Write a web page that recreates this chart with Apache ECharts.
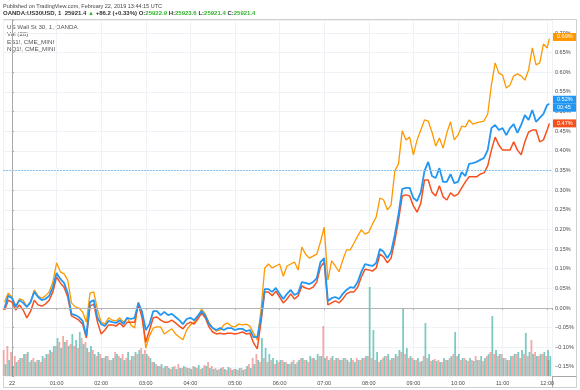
<!DOCTYPE html>
<html><head><meta charset="utf-8">
<script src="https://cdn.jsdelivr.net/npm/echarts@6/dist/echarts.min.js"></script>
<style>html,body{margin:0;padding:0;background:#fff}#c{width:580px;height:390px}</style>
</head><body><div id="c"></div>
<script>
// time in minutes from 00:00 (Feb 22)
const minutes = [-10,-5,0,5,10,15,20,25,30,35,40,45,50,55,60,65,70,75,80,85,90,95,100,105,110,115,120,125,130,135,140,145,150,155,160,165,170,175,180,185,190,195,200,205,210,215,220,225,230,235,240,245,250,255,260,265,270,275,280,285,290,295,300,305,310,315,320,325,330,335,340,345,350,355,360,365,370,375,380,385,390,395,400,405,410,415,420,425,430,435,440,445,450,455,460,465,470,475,480,485,490,495,500,505,510,515,520,525,530,535,540,545,550,555,560,565,570,575,580,585,590,595,600,605,610,615,620,625,630,635,640,645,650,655,660,665,670,675,680,685,690,695,700,705,710,715,720,723];

// % change, US Wall St 30 (blue)
const us30 = [0.000,0.031,0.025,0.003,0.020,0.013,0.003,0.015,0.041,0.028,0.020,0.023,0.031,0.053,
0.089,0.074,0.064,0.038,-0.015,-0.018,-0.023,-0.033,-0.071,0.015,0.020,-0.025,
-0.041,-0.046,-0.033,-0.036,-0.038,-0.031,-0.041,-0.025,-0.028,-0.025,0.013,-0.010,
-0.056,-0.041,-0.008,-0.008,-0.018,-0.010,-0.018,-0.015,-0.023,-0.031,-0.041,-0.028,
-0.025,-0.031,-0.020,-0.008,-0.020,-0.041,-0.051,-0.056,-0.051,-0.056,-0.051,-0.051,
-0.056,-0.053,-0.053,-0.059,-0.056,-0.074,-0.074,-0.025,0.048,0.048,0.041,0.051,
0.036,0.023,0.036,0.046,0.033,0.038,0.066,0.064,0.061,0.066,0.076,0.117,
0.127,0.018,0.025,0.028,0.023,0.036,0.046,0.053,0.051,0.066,0.092,0.112,
0.109,0.107,0.115,0.150,0.143,0.127,0.143,0.186,0.239,0.303,0.306,0.306,
0.280,0.272,0.295,0.349,0.372,0.336,0.331,0.356,0.321,0.321,0.341,0.318,
0.321,0.346,0.336,0.367,0.369,0.372,0.377,0.382,0.402,0.458,0.466,0.453,
0.458,0.440,0.458,0.468,0.446,0.466,0.491,0.479,0.504,0.474,0.484,0.494,
0.517,0.520];

// % change, NQ1! (orange)
const nq = [0.015,0.038,0.028,0.005,0.023,0.020,0.003,0.015,0.046,0.031,0.025,0.031,0.041,0.066,
0.115,0.092,0.087,0.071,0.013,0.003,0.000,-0.010,-0.036,0.038,0.041,-0.005,
-0.036,-0.041,-0.025,-0.031,-0.033,-0.025,-0.036,-0.025,-0.043,-0.051,0.015,-0.020,
-0.102,-0.071,-0.051,-0.048,-0.048,-0.066,-0.059,-0.053,-0.066,-0.074,-0.081,-0.056,
-0.043,-0.036,-0.023,-0.003,-0.015,-0.036,-0.051,-0.059,-0.056,-0.043,-0.038,-0.046,
-0.048,-0.041,-0.043,-0.041,-0.046,-0.064,-0.081,-0.005,0.102,0.112,0.102,0.107,
0.112,0.081,0.107,0.112,0.117,0.097,0.155,0.137,0.127,0.132,0.137,0.168,
0.206,0.071,0.120,0.107,0.092,0.122,0.148,0.148,0.165,0.183,0.199,0.188,
0.193,0.214,0.232,0.280,0.275,0.250,0.262,0.349,0.367,0.451,0.428,0.435,
0.390,0.428,0.453,0.479,0.476,0.448,0.412,0.433,0.407,0.446,0.474,0.428,
0.440,0.463,0.461,0.479,0.468,0.471,0.474,0.476,0.494,0.568,0.624,0.598,
0.593,0.560,0.568,0.591,0.596,0.591,0.580,0.606,0.662,0.619,0.624,0.672,
0.662,0.686];

// % change, ES1! (red)
const es = [-0.005,0.020,0.015,-0.005,0.008,-0.005,-0.025,-0.008,0.020,0.008,0.005,0.010,0.020,0.041,
0.079,0.064,0.053,0.028,-0.020,-0.025,-0.031,-0.041,-0.076,0.005,0.010,-0.036,
-0.066,-0.056,-0.043,-0.043,-0.046,-0.038,-0.048,-0.036,-0.036,-0.036,0.010,-0.025,
-0.087,-0.056,-0.025,-0.023,-0.031,-0.036,-0.036,-0.031,-0.038,-0.046,-0.053,-0.041,
-0.036,-0.041,-0.028,-0.013,-0.025,-0.048,-0.061,-0.066,-0.064,-0.066,-0.064,-0.064,
-0.066,-0.064,-0.061,-0.066,-0.064,-0.089,-0.104,-0.036,0.041,0.041,0.031,0.043,
0.028,0.013,0.023,0.036,0.023,0.031,0.056,0.051,0.048,0.053,0.066,0.104,
0.117,0.008,0.013,0.018,0.013,0.023,0.036,0.041,0.041,0.053,0.079,0.099,
0.097,0.094,0.102,0.137,0.130,0.115,0.127,0.171,0.224,0.285,0.288,0.285,
0.260,0.244,0.267,0.326,0.326,0.295,0.285,0.311,0.283,0.275,0.293,0.285,
0.290,0.306,0.321,0.334,0.334,0.334,0.341,0.344,0.362,0.402,0.435,0.415,
0.402,0.402,0.402,0.423,0.402,0.390,0.423,0.448,0.453,0.453,0.423,0.428,
0.453,0.470];

// volume (relative), up and down buckets
const volUp = [12,16,10,14,18,22,24,16,14,16,20,22,26,30,
38,28,34,30,42,36,44,32,28,30,22,24,
18,20,16,18,22,18,16,24,20,24,26,22,
22,18,14,10,12,10,8,9,7,8,10,8,
7,9,11,8,10,8,7,6,8,7,9,6,
7,8,6,10,8,12,16,38,28,22,18,16,
16,14,12,14,12,16,18,16,20,18,22,20,
18,16,20,18,16,18,16,18,14,16,18,20,
89,46,24,16,20,22,18,22,26,68,28,20,
16,18,15,53,22,16,15,14,18,16,20,44,
22,18,16,18,15,16,20,18,22,60,26,22,
18,16,20,22,24,26,43,24,22,20,22,24,
26,20];
const volDown = [26,30,24,20,16,18,22,14,18,16,14,18,22,24,
30,34,40,36,32,30,28,38,34,24,26,20,
22,18,20,16,24,20,22,18,16,20,22,28,
26,20,14,12,10,8,10,7,10,12,8,9,
8,10,8,7,11,14,10,8,7,9,6,8,
7,6,8,7,12,18,22,14,18,14,16,12,
14,16,14,12,16,14,18,16,14,18,16,20,
50,20,18,16,18,16,18,14,16,18,16,18,
20,18,16,14,18,20,16,18,20,24,22,18,
18,16,14,20,18,15,17,16,14,16,18,22,
20,16,18,15,16,20,16,15,20,24,22,20,
22,18,16,20,22,18,22,20,36,24,20,22,
20,16];

const yTicks = [-0.15,-0.10,-0.05,0,0.05,0.10,0.15,0.20,0.25,0.30,0.35,0.40,0.45,0.50,0.55,0.60,0.65,0.70];
const xTickValues = [0,60,120,180,240,300,360,420,480,540,600,660,720];
const xTickLabels = ['22','01:00','02:00','03:00','04:00','05:00','06:00','07:00','08:00','09:00','10:00','11:00','12:00'];
const priceLineLevel = 0.35;
const countdownText = '00:45';

const FONT = 'Liberation Sans, Arial, sans-serif';
const pair = arr => minutes.map((t, i) => [t, arr[i]]);
const fmtPct = v => (v < 0 ? '\u2212' : '') + Math.abs(v).toFixed(2) + '%';
const last = arr => arr[arr.length - 1];

function endLabel(arr, color, extra) {
  const box = { backgroundColor: color, color: '#fff', fontSize: 5.5, fontFamily: FONT, padding: [1, 4], width: 15, lineHeight: 8 };
  return {
    silent: true, symbol: 'none',
    lineStyle: { color: 'rgba(0,0,0,0)', width: 0, opacity: 1 },
    label: {
      show: true, position: 'end', distance: 1, opacity: 1,
      formatter: extra ? '{a|' + fmtPct(last(arr)) + '}\n{a|' + extra + '}' : '{a|' + fmtPct(last(arr)) + '}',
      color: '#fff', fontSize: 5.5, fontFamily: FONT,
      rich: { a: box }
    },
    data: [{ yAxis: last(arr) }]
  };
}

const chart = echarts.init(document.getElementById('c'), null, { renderer: 'canvas' });
chart.setOption({
  animation: false,
  backgroundColor: '#fff',
  grid: [
    { left: 3, right: 28, top: 20, bottom: 14 },
    { left: 3, right: 28, top: 280, bottom: 14 }
  ],
  xAxis: [
    { type: 'value', gridIndex: 0, min: -12.1, max: 726.5, minInterval: 60, maxInterval: 60,
      axisLine: { show: true, lineStyle: { color: '#a8a8a8' } },
      axisTick: { show: true, length: 2, lineStyle: { color: '#a8a8a8' } },
      axisLabel: { fontSize: 5.5, fontFamily: FONT, color: '#4a4a4a', margin: 4,
        formatter: v => { const i = xTickValues.findIndex(k => Math.abs(k - v) < 1e-6); return i < 0 ? '' : xTickLabels[i]; } },
      splitLine: { show: true, lineStyle: { color: '#eef2f7', width: 1 } } },
    { type: 'value', gridIndex: 1, min: -12.1, max: 726.5, show: false, splitLine: { show: false } }
  ],
  yAxis: [
    { type: 'value', gridIndex: 0, position: 'right', min: -0.1731, max: 0.7332, minInterval: 0.05, maxInterval: 0.05,
      axisLine: { show: true, lineStyle: { color: '#a8a8a8' } },
      axisTick: { show: true, length: 2, lineStyle: { color: '#a8a8a8' } },
      axisLabel: { fontSize: 5.5, fontFamily: FONT, color: '#4a4a4a', margin: 3,
        formatter: v => { const t = yTicks.find(k => Math.abs(k - v) < 1e-6); return t === undefined ? '' : fmtPct(t); } },
      splitLine: { show: true, lineStyle: { color: '#eef2f7', width: 1 } } },
    { type: 'value', gridIndex: 1, min: 0, max: 96, show: false, splitLine: { show: false } }
  ],
  series: [
    { name: 'Vol down', type: 'bar', xAxisIndex: 1, yAxisIndex: 1, barWidth: 1.8, barGap: '0%',
      itemStyle: { color: 'rgba(239,83,80,0.5)' }, data: pair(volDown), silent: true },
    { name: 'Vol up', type: 'bar', xAxisIndex: 1, yAxisIndex: 1, barWidth: 1.8, barGap: '0%',
      itemStyle: { color: 'rgba(38,166,154,0.6)' }, data: pair(volUp), silent: true },
    { name: 'NQ1!, CME_MINI', type: 'line', showSymbol: false, data: pair(nq),
      lineStyle: { color: '#ff9800', width: 1.3 }, itemStyle: { color: '#ff9800' },
      markLine: endLabel(nq, '#ff9800') },
    { name: 'ES1!, CME_MINI', type: 'line', showSymbol: false, data: pair(es),
      lineStyle: { color: '#f5511e', width: 1.5 }, itemStyle: { color: '#f5511e' },
      markLine: endLabel(es, '#f5511e') },
    { name: 'US Wall St 30, 1, OANDA', type: 'line', showSymbol: false, data: pair(us30),
      lineStyle: { color: '#2196f3', width: 1.8 }, itemStyle: { color: '#2196f3' },
      markLine: endLabel(us30, '#2196f3', countdownText) },
    { name: 'levels', type: 'line', data: [], markLine: {
        silent: true, symbol: 'none', label: { show: false },
        data: [
          { yAxis: priceLineLevel, lineStyle: { type: [2, 1], color: '#8cc4f0', width: 1 } },
          { yAxis: 0, lineStyle: { type: 'solid', color: '#b4b4b4', width: 1 } }
        ] } }
  ],
  graphic: [
    { type: 'rect', shape: { x: 3.5, y: 19.5, width: 573, height: 368 }, style: { fill: 'none', stroke: '#cfcfcf', lineWidth: 1 }, silent: true },
    { type: 'line', shape: { x1: 552, y1: 376.5, x2: 576.5, y2: 376.5 }, style: { stroke: '#a8a8a8', lineWidth: 1 }, silent: true },
    { type: 'line', shape: { x1: 552.5, y1: 376, x2: 552.5, y2: 387.5 }, style: { stroke: '#a8a8a8', lineWidth: 1 }, silent: true },
    { type: 'text', left: 3, top: 3, silent: true, style: { text: 'Published on TradingView.com, February 22, 2019 13:44:15 UTC', fontSize: 5.5, fontFamily: FONT, fill: '#444' } },
    { type: 'text', left: 3, top: 10.5, silent: true, style: {
        text: '{d|OANDA:US30USD, 1  25921.4 }{g|\u25B2}{d| +86.2 (+0.33%) O:}{g|25922.9}{d| H:}{g|25923.6}{d| L:}{g|25921.4}{d| C:}{g|25921.4}',
        fontSize: 6, fontFamily: FONT, fontWeight: 'bold',
        rich: { d: { fontSize: 6, fontFamily: FONT, fontWeight: 'bold', fill: '#333' }, g: { fontSize: 6, fontFamily: FONT, fontWeight: 'bold', fill: '#35b22f' } } } },
    { type: 'text', left: 7, top: 24, silent: true, style: { text: 'US Wall St 30, 1, OANDA', fontSize: 6.2, fontFamily: FONT, fill: '#555' } },
    { type: 'text', left: 7, top: 31.5, silent: true, style: { text: 'Vol (20)', fontSize: 6.2, fontFamily: FONT, fill: '#555' } },
    { type: 'text', left: 7, top: 39, silent: true, style: { text: 'ES1!, CME_MINI', fontSize: 6.2, fontFamily: FONT, fill: '#555' } },
    { type: 'text', left: 7, top: 46.5, silent: true, style: { text: 'NQ1!, CME_MINI', fontSize: 6.2, fontFamily: FONT, fill: '#555' } }
  ]
});
</script></body></html>
